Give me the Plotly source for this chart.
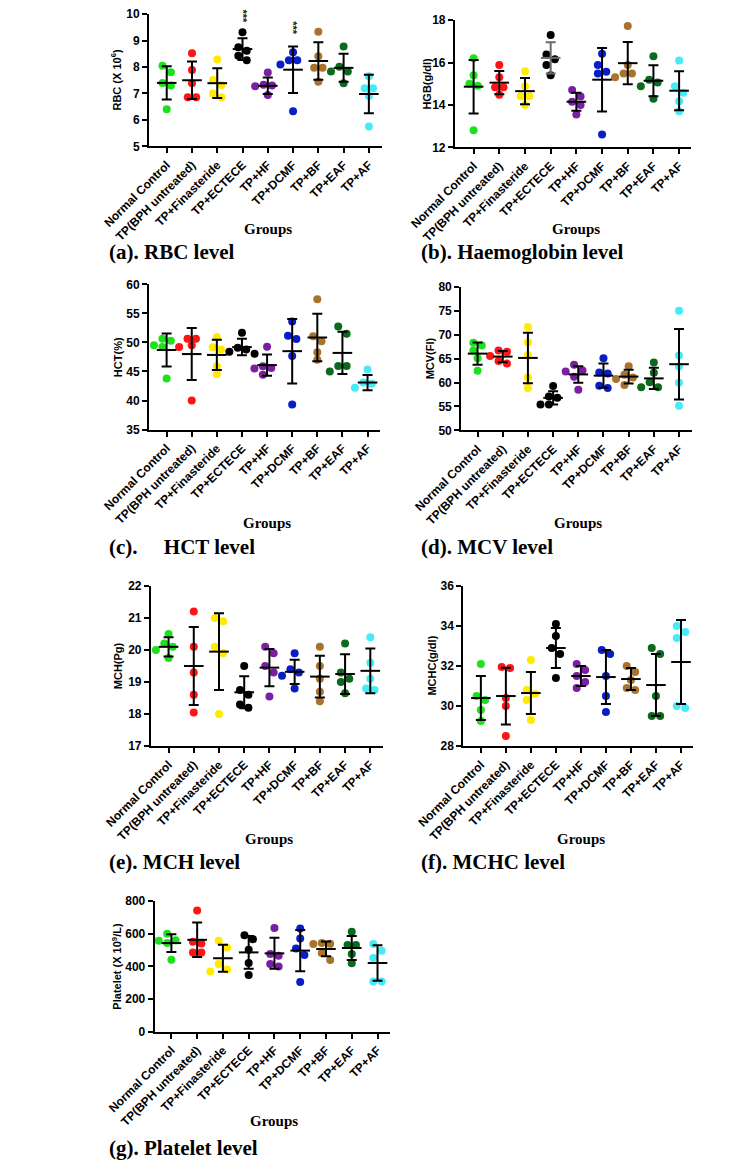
import numpy as np
import plotly.graph_objects as go

W, H = 744, 1172

groups = ["Normal Control", "TP(BPH untreated)", "TP+Finasteride", "TP+ECTECE",
          "TP+HF", "TP+DCMF", "TP+BF", "TP+EAF", "TP+AF"]
colors = ["#1ee01e", "#ff1414", "#ffea00", "#000000", "#7b1fa2",
          "#0a1ec8", "#a8732c", "#0b6a1e", "#45ecf7"]

# ---------------- data ----------------
rbc_points = [[8.05, 7.8, 7.4, 7.3, 6.4], [8.52, 7.89, 7.39, 6.86, 6.86],
              [8.29, 7.51, 7.32, 7.0, 6.86], [9.32, 8.75, 8.62, 8.43, 8.26],
              [7.79, 7.33, 7.3, 7.27, 6.94], [8.56, 8.26, 8.26, 8.1, 6.33],
              [9.34, 8.41, 7.97, 7.97, 7.44], [8.78, 8.01, 7.83, 7.83, 7.39],
              [7.65, 7.2, 7.2, 6.9, 5.75]]
rbc_mean = [7.40, 7.50, 7.39, 8.68, 7.29, 7.90, 8.23, 7.97, 6.98]
rbc_sd = [0.63, 0.71, 0.56, 0.41, 0.31, 0.88, 0.71, 0.53, 0.73]

hgb_points = [[16.2, 15.4, 15.0, 14.9, 12.8], [15.88, 15.3, 14.83, 14.83, 14.48],
              [15.59, 14.88, 14.41, 14.41, 14.0], [17.3, 16.38, 16.15, 15.88, 15.4],
              [14.7, 14.4, 14.15, 14.0, 13.55], [16.41, 15.88, 15.57, 15.48, 12.6],
              [17.72, 15.88, 15.48, 15.48, 15.3], [16.3, 15.19, 15.06, 14.88, 14.29],
              [16.1, 14.88, 14.57, 14.17, 13.7]]
hgb_mean = [14.86, 15.05, 14.65, 16.22, 14.15, 15.19, 15.97, 15.14, 14.67]
hgb_sd = [1.26, 0.55, 0.62, 0.74, 0.42, 1.50, 1.00, 0.73, 0.92]

hct_points = [[50.65, 50.3, 49.5, 49.2, 43.8], [50.65, 50.65, 49.5, 49.2, 40.0],
              [50.93, 49.18, 48.78, 45.9, 44.53], [51.67, 49.07, 48.78, 48.39, 48.05],
              [49.24, 45.9, 45.6, 45.5, 44.42], [53.6, 51.16, 50.6, 47.65, 39.32],
              [57.45, 51.05, 50.2, 48.33, 47.03], [52.75, 51.5, 45.95, 45.95, 44.99],
              [45.33, 43.1, 42.9, 42.2, 42.1]]
hct_mean = [48.7, 48.0, 47.85, 49.2, 46.1, 48.5, 50.85, 48.2, 43.1]
hct_sd = [2.83, 4.48, 2.6, 1.42, 1.84, 5.55, 4.07, 3.63, 1.31]

mcv_points = [[68.3, 67.75, 66.7, 65.07, 62.45], [66.7, 66.45, 65.55, 64.5, 63.97],
              [71.6, 68.44, 65.75, 61.07, 58.87], [59.28, 57.08, 56.8, 55.43, 55.43],
              [63.7, 62.5, 62.3, 61.2, 58.5], [65.07, 62.1, 61.9, 59.35, 58.87],
              [63.41, 61.62, 61.07, 60.73, 59.49], [64.17, 62.04, 60.04, 59.0, 59.0],
              [75.04, 65.68, 63.34, 59.97, 55.15]]
mcv_mean = [66.05, 65.43, 65.15, 56.8, 61.7, 61.45, 61.25, 60.87, 63.84]
mcv_sd = [2.35, 1.19, 5.27, 1.38, 1.72, 2.55, 1.42, 2.24, 7.37]

mch_points = [[20.5, 20.2, 20.1, 20.0, 19.75], [21.2, 20.1, 19.3, 18.6, 18.05],
              [21.0, 20.9, 20.1, 19.9, 18.0], [19.5, 18.75, 18.6, 18.3, 18.2],
              [20.1, 19.9, 19.5, 19.3, 18.55], [19.9, 19.4, 19.3, 19.2, 18.8],
              [20.1, 19.5, 19.1, 18.7, 18.4], [20.2, 19.3, 19.1, 19.0, 18.65],
              [20.4, 19.6, 19.1, 18.8, 18.75]]
mch_mean = [20.1, 19.5, 19.95, 18.68, 19.45, 19.32, 19.17, 19.25, 19.35]
mch_sd = [0.3, 1.22, 1.2, 0.5, 0.58, 0.38, 0.65, 0.62, 0.7]

mchc_points = [[32.1, 30.5, 30.3, 29.8, 29.25], [31.95, 31.9, 30.4, 30.0, 28.5],
               [32.3, 30.8, 30.6, 30.3, 29.3], [34.1, 33.5, 32.9, 32.6, 31.4],
               [32.1, 31.8, 31.5, 31.2, 30.9], [32.8, 32.6, 31.5, 30.5, 29.7],
               [32.0, 31.7, 31.3, 30.9, 30.8], [32.9, 32.6, 30.5, 29.5, 29.5],
               [34.0, 33.7, 33.4, 30.0, 29.9]]
mchc_mean = [30.4, 30.5, 30.65, 32.9, 31.5, 31.45, 31.35, 31.05, 32.2]
mchc_sd = [1.1, 1.42, 1.05, 1.0, 0.5, 1.35, 0.55, 1.55, 2.1]

plt_points = [[601, 561, 557, 543, 441], [743, 551, 541, 486, 486],
              [557, 516, 415, 381, 369], [591, 567, 502, 421, 348],
              [636, 476, 466, 415, 399], [632, 571, 510, 470, 304],
              [543, 539, 537, 482, 439], [612, 531, 531, 476, 419],
              [537, 496, 452, 308, 308]]
plt_mean = [543, 563, 450, 486, 480, 497, 507, 513, 421]
plt_sd = [54, 106, 83, 101, 95, 126, 45, 73, 109]

# ---------------- panel layout (pixel boxes) ----------------
panels = [
    dict(pts=rbc_points, mean=rbc_mean, sd=rbc_sd, yr=[5, 10], dt=1,
         ytitle="RBC (X 10<sup>6</sup>)", title="(a). RBC level",
         box=(108, 356.5, 7.3, 141), xr=[-0.7, 8.5], ytx=73, gy=225, tx=63, ty=248),
    dict(pts=hgb_points, mean=hgb_mean, sd=hgb_sd, yr=[12, 18], dt=2,
         ytitle="HGB(g/dl)", title="(b). Haemoglobin level",
         box=(435, 687, 13.3, 142), xr=[-0.727, 8.45], ytx=405, gy=225, tx=397, ty=248),
    dict(pts=hct_points, mean=hct_mean, sd=hct_sd, yr=[35, 60], dt=5,
         ytitle="HCT(%)", title="(c).\u00a0\u00a0\u00a0\u00a0 HCT level",
         box=(108, 355, 280.7, 427.7), xr=[-0.7, 8.5], ytx=75, gy=522, tx=63, ty=547),
    dict(pts=mcv_points, mean=mcv_mean, sd=mcv_sd, yr=[50, 80], dt=5,
         ytitle="MCV(Fl)", title="(d). MCV level",
         box=(441.7, 688, 283.3, 428.5), xr=[-0.65, 8.5], ytx=408, gy=522, tx=397, ty=547),
    dict(pts=mch_points, mean=mch_mean, sd=mch_sd, yr=[17, 22], dt=1,
         ytitle="MCH(Pg)", title="(e). MCH level",
         box=(110, 358, 586, 748), xr=[-0.7, 8.5], ytx=75, gy=842, tx=63, ty=865),
    dict(pts=mchc_points, mean=mchc_mean, sd=mchc_sd, yr=[28, 36], dt=2,
         ytitle="MCHC(g/dl)", title="(f). MCHC level",
         box=(444, 690, 586, 748), xr=[-0.7, 8.5], ytx=410, gy=842, tx=397, ty=865),
    dict(pts=plt_points, mean=plt_mean, sd=plt_sd, yr=[0, 800], dt=200,
         ytitle="Platelet (X 10<sup>9</sup>/L)", title="(g). Platelet level",
         box=(114, 366, 905, 1037), xr=[-0.65, 8.5], ytx=74, gy=1127, tx=63, ty=1155),
]
# the ECTECE bars in the haemoglobin panel are drawn in grey
bar_color_override = {(2, 3): "#6a6a6a"}

SANS = "Liberation Sans, Arial, sans-serif"
SERIF = "Liberation Serif, Times New Roman, serif"


def swarm(vals, ppu, ppc, d=8.0, s=9.0):
    vals = np.asarray(vals, float)
    order = np.argsort(-vals)
    ypx = vals * ppu
    offs = np.zeros(len(vals))
    placed = []
    thr = 0.95 * d
    for i in order:
        has_nb = any(abs(ypx[i] - ypx[j]) < thr for j in range(len(vals)) if j != i)
        cands = [0.0] if not has_nb else [-s / 2, s / 2, 0.0, -1.5 * s, 1.5 * s, -2.5 * s, 2.5 * s]
        chosen = cands[-1]
        for c in cands:
            if all((c - px) ** 2 + (ypx[i] - py) ** 2 >= thr ** 2 for px, py in placed):
                chosen = c
                break
        placed.append((chosen, ypx[i]))
        offs[i] = chosen / ppc
    return offs


fig = go.Figure()
layout = dict(width=W, height=H, margin=dict(l=0, r=0, t=0, b=0), autosize=False,
              paper_bgcolor="white", plot_bgcolor="white", showlegend=False)
annotations = []

for k, p in enumerate(panels, start=1):
    l, r, t, b = p["box"]
    ppu = (b - t) / (p["yr"][1] - p["yr"][0])
    ppc = (r - l) / (p["xr"][1] - p["xr"][0])
    xa, ya = f"x{k}", f"y{k}"
    for gi, vals in enumerate(p["pts"]):
        offs = swarm(vals, ppu, ppc)
        fig.add_trace(go.Scatter(
            x=gi + offs, y=vals, mode="markers", xaxis=xa, yaxis=ya,
            marker=dict(size=8, color=colors[gi], line=dict(width=0)),
            cliponaxis=False, hoverinfo="skip"))
    for gi in range(len(groups)):
        bc = bar_color_override.get((k, gi), "black")
        fig.add_trace(go.Scatter(
            x=[gi], y=[p["mean"][gi]], mode="markers", xaxis=xa, yaxis=ya,
            marker=dict(symbol="line-ew", size=14, color=bc,
                        line=dict(width=2, color=bc)),
            error_y=dict(type="data", array=[p["sd"][gi]], symmetric=True, color=bc,
                         thickness=2, width=5),
            cliponaxis=False, hoverinfo="skip"))

    sfx = "" if k == 1 else str(k)
    layout["xaxis" + sfx] = dict(
        domain=[l / W, r / W], range=p["xr"], anchor=ya,
        tickmode="array", tickvals=list(range(len(groups))), ticktext=groups,
        tickangle=-45, ticks="outside", ticklen=5, tickwidth=2, tickcolor="black",
        showline=True, linewidth=2, linecolor="black", showgrid=False, zeroline=False,
        tickfont=dict(family=SANS, size=12, color="black", weight="bold"))
    layout["yaxis" + sfx] = dict(
        domain=[1 - b / H, 1 - t / H], range=p["yr"], anchor=xa,
        tickmode="linear", tick0=p["yr"][0], dtick=p["dt"],
        ticks="outside", ticklen=5, tickwidth=2, tickcolor="black",
        showline=True, linewidth=2, linecolor="black", showgrid=False, zeroline=False,
        tickfont=dict(family=SANS, size=12, color="black", weight="bold"))

    annotations.append(dict(xref="paper", yref="paper", x=p["ytx"] / W,
                            y=1 - (t + b) / 2 / H, text=p["ytitle"], textangle=-90,
                            showarrow=False, xanchor="center", yanchor="middle",
                            font=dict(family=SANS, size=11, color="black", weight="bold")))
    cx = l + (4 - p["xr"][0]) * ppc
    annotations.append(dict(xref="paper", yref="paper", x=cx / W, y=1 - p["gy"] / H,
                            text="Groups", showarrow=False, xanchor="center",
                            yanchor="middle",
                            font=dict(family=SERIF, size=15, color="black", weight="bold")))
    annotations.append(dict(xref="paper", yref="paper", x=p["tx"] / W, y=1 - p["ty"] / H,
                            text=p["title"], showarrow=False, xanchor="left",
                            yanchor="middle",
                            font=dict(family=SERIF, size=21, color="black", weight="bold")))

# significance marks in panel (a)
annotations.append(dict(xref="x", yref="paper", x=3, y=1.0, text="***", textangle=90,
                        showarrow=False, xanchor="center", yanchor="top",
                        font=dict(family=SANS, size=11, color="#222222", weight="bold")))
annotations.append(dict(xref="x", yref="y", x=5, y=9.47, text="***", textangle=90,
                        showarrow=False, xanchor="center", yanchor="middle",
                        font=dict(family=SANS, size=11, color="#222222", weight="bold")))

layout["annotations"] = annotations
fig.update_layout(**layout)
fig.write_html("out.html", config={"displayModeBar": False},
               post_script="document.body.style.margin='0';document.body.style.padding='0';")
